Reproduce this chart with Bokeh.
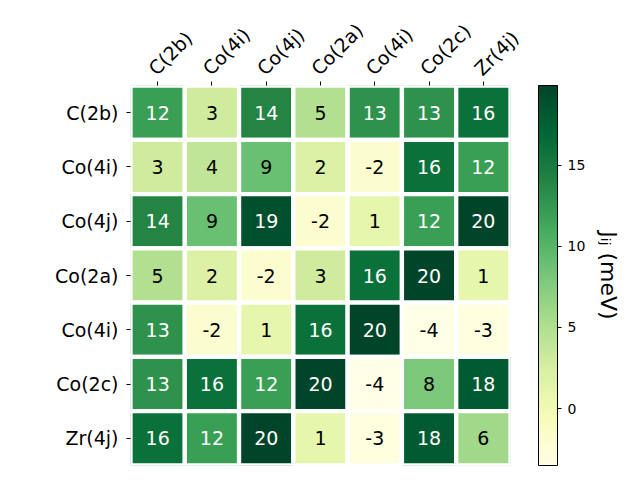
import math
from bokeh.plotting import figure
from bokeh.models import (ColumnDataSource, LinearColorMapper, ColorBar, FixedTicker,
                          Range1d, LinearAxis)
from bokeh.transform import transform
from bokeh.core.properties import value
from bokeh.embed import file_html
from bokeh.resources import INLINE

# ---- data ----
row_labels = ["C(2b)", "Co(4i)", "Co(4j)", "Co(2a)", "Co(4i)", "Co(2c)", "Zr(4j)"]
col_labels = ["C(2b)", "Co(4i)", "Co(4j)", "Co(2a)", "Co(4i)", "Co(2c)", "Zr(4j)"]
row_c2b = [12, 3, 14, 5, 13, 13, 16]
row_co4i = [3, 4, 9, 2, -2, 16, 12]
row_co4j = [14, 9, 19, -2, 1, 12, 19.9]
row_co2a = [5, 2, -2, 3, 16, 19.9, 1]
row_co4i_b = [13, -2, 1, 16, 19.9, -3.5, -3]
row_co2c = [13, 16, 12, 19.9, -3.5, 8, 18]
row_zr4j = [16, 12, 19.9, 1, -3, 18, 6]
matrix = [row_c2b, row_co4i, row_co4j, row_co2a, row_co4i_b, row_co2c, row_zr4j]
cbar_ticks = [0, 5, 10, 15]
cbar_label = "Jᵢⱼ (meV)"

# YlGn colormap (ColorBrewer 9 anchors), interpolated to 256
ylgn9 = ["#ffffe5", "#f7fcb9", "#d9f0a3", "#addd8e", "#78c679",
         "#41ab5d", "#238443", "#006837", "#004529"]


def hex2rgb(h):
    return tuple(int(h[i:i + 2], 16) for i in (1, 3, 5))


anchors = [hex2rgb(c) for c in ylgn9]
palette = []
N = 256
for k in range(N):
    t = k / (N - 1) * (len(anchors) - 1)
    i = min(int(t), len(anchors) - 2)
    f = t - i
    a, b = anchors[i], anchors[i + 1]
    rgb = [round(a[j] + (b[j] - a[j]) * f) for j in range(3)]
    palette.append("#%02x%02x%02x" % tuple(rgb))

flat = [v for r in matrix for v in r]
vmin, vmax = min(flat), max(flat)
mapper = LinearColorMapper(palette=palette, low=vmin, high=vmax)


def lum(hexc):
    rgb = [c / 255 for c in hex2rgb(hexc)]
    rgb = [c / 12.92 if c <= 0.03928 else ((c + 0.055) / 1.055) ** 2.4 for c in rgb]
    return 0.2126 * rgb[0] + 0.7152 * rgb[1] + 0.0722 * rgb[2]


xs, ys, vals, texts, tcolors = [], [], [], [], []
for r, row in enumerate(matrix):
    for c, v in enumerate(row):
        xs.append(c)
        ys.append(r)
        vals.append(v)
        texts.append(format(v, ".0f"))
        idx = min(N - 1, max(0, int((v - vmin) / (vmax - vmin) * N)))
        tcolors.append("black" if lum(palette[idx]) > 0.408 else "white")

src = ColumnDataSource(dict(x=xs, y=ys, v=vals, t=texts, tc=tcolors))

p = figure(width=640, height=480, output_backend="svg", toolbar_location=None,
           x_range=Range1d(-0.5, 6.5), y_range=Range1d(6.5, -0.5),
           x_axis_location="above",
           min_border_left=130, min_border_right=130,
           min_border_top=85, min_border_bottom=15)
p.outline_line_color = None
p.grid.visible = False
p.background_fill_color = "white"
p.border_fill_color = "white"

p.rect(x="x", y="y", width=1, height=1, source=src,
       fill_color=transform("v", mapper), line_color="white", line_width=4.3)
p.text(x="x", y="y", text="t", source=src, text_color="tc",
       text_align="center", text_baseline="middle",
       text_font=value("DejaVu Sans"), text_font_size="19px")

for ax in (p.xaxis[0], p.yaxis[0]):
    ax.ticker = FixedTicker(ticks=list(range(7)))
    ax.axis_line_color = None
    ax.major_tick_out = 4
    ax.major_tick_in = 0
    ax.minor_tick_line_color = None
    ax.major_tick_line_color = "black"
    ax.major_label_text_font = "DejaVu Sans"
    ax.major_label_text_font_size = "19px"
    ax.major_label_text_color = "black"

p.yaxis[0].major_label_standoff = 8
p.xaxis[0].major_label_standoff = 4
p.xaxis[0].major_label_text_line_height = 0.75
p.xaxis[0].major_label_overrides = {i: s + "\n" for i, s in enumerate(col_labels)}
p.yaxis[0].major_label_overrides = {i: s for i, s in enumerate(row_labels)}
p.xaxis[0].major_label_orientation = math.pi / 4

cb = ColorBar(color_mapper=mapper, location=(408, 0), width=19, height=380,
              padding=0, margin=0, ticker=FixedTicker(ticks=cbar_ticks),
              major_tick_out=4, major_tick_in=0, major_tick_line_color="black",
              minor_tick_line_color=None, label_standoff=6,
              major_label_text_font="DejaVu Sans", major_label_text_font_size="14px",
              major_label_text_color="black",
              bar_line_color="black", bar_line_width=1,
              border_line_color=None, background_fill_alpha=0)
p.add_layout(cb)

# colour-bar label as a label-only right axis
lab_ax = LinearAxis(ticker=FixedTicker(ticks=[]), axis_line_color=None,
                    major_tick_line_color=None, minor_tick_line_color=None,
                    major_label_text_font_size="0px",
                    axis_label=cbar_label, axis_label_text_font="DejaVu Sans",
                    axis_label_text_font_style="normal",
                    axis_label_text_font_size="22px", axis_label_text_color="black",
                    axis_label_standoff=85)
p.add_layout(lab_ax, "right")

open("out.html", "w").write(file_html(p, INLINE))
